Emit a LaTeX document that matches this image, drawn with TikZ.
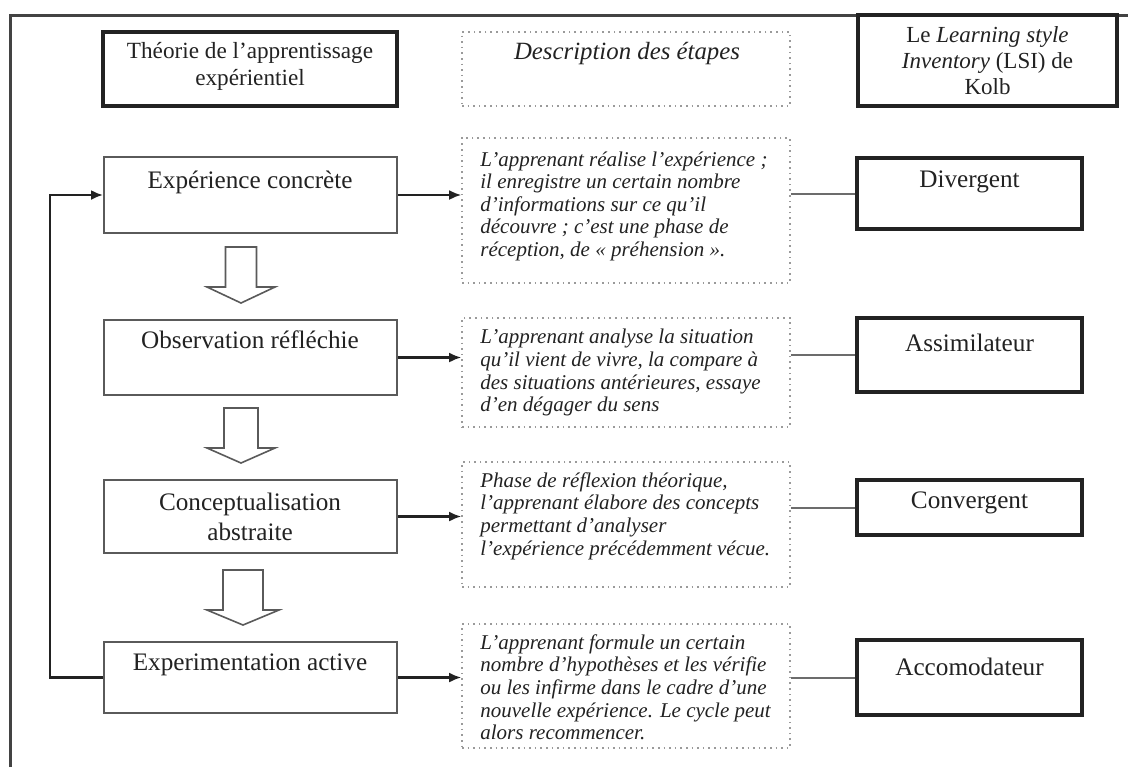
\documentclass[tikz,border=0pt]{standalone}
\usepackage{fontspec}
\setmainfont{Liberation Serif}
\usetikzlibrary{arrows.meta}
\definecolor{ink}{HTML}{222222}
\definecolor{lgray}{HTML}{5A5A5A}
\definecolor{dgray}{HTML}{9A9A9A}
\newcommand\blockarr[6]{\draw[barrow] (#1-#2,#4) -- (#1+#2,#4) -- (#1+#2,#5) -- (#1+#3,#5) -- (#1,#6) -- (#1-#3,#5) -- (#1-#2,#5) -- cycle;}
\begin{document}
\begin{tikzpicture}[x=0.5pt,y=-0.5pt,
  lbox/.style={draw=lgray, line width=1pt, inner sep=0},
  rbox/.style={draw=ink, line width=1.6pt, inner sep=0},
  dbox/.style={draw=dgray, line width=0.8pt, dotted, inner sep=0},
  btxt/.style={font=\fontsize{12.6}{15}\selectfont, text=ink, inner sep=0, align=center},
  dtxt/.style={font=\fontsize{10.5}{11.3}\selectfont\itshape, text=ink, inner sep=0, align=left, anchor=north west},
  link/.style={draw=ink, line width=1.1pt, -{Latex[length=6pt,width=5pt]}},
  plain/.style={draw=dgray!70!black, line width=1pt},
  barrow/.style={draw=lgray, line width=0.8pt, fill=white, line join=miter},
  frame/.style={draw=ink!85, line width=1.5pt}
]
\useasboundingbox (0,0) rectangle (1128,767);
\fill[white] (0,0) rectangle (1128,767);
% open frame
\coordinate (fbl) at (10,767);
\coordinate (ftl) at (10,15);
\coordinate (ftr) at (1128,15);
\draw[frame] (fbl) -- (ftl) -- (ftr);

% headers
\node[rbox, minimum width=147pt, minimum height=37pt] (h1) at (250,69) {};
\node[btxt, font=\fontsize{11.6}{13.5}\selectfont] (h1t) at (250,66.5) {Théorie de l'apprentissage\\expérientiel};
\node[dbox, minimum width=164pt, minimum height=37pt] (h2) at (626,69) {};
\node[btxt, font=\fontsize{12.4}{15}\selectfont\itshape] (h2t) at (627,54) {Description des étapes};
\node[rbox, minimum width=129.5pt, minimum height=45.5pt] (h3) at (987.5,60.5) {};
\node[btxt, font=\fontsize{11.5}{13}\selectfont] (h3t) at (987.5,61) {Le \textit{Learning style}\\\textit{Inventory} (LSI) de\\Kolb};

% left column
\node[lbox, minimum width=146.5pt, minimum height=38pt] (e1) at (250.5,195) {};
\node[btxt] (e1t) at (250,182) {Expérience concrète};
\node[lbox, minimum width=146.5pt, minimum height=37.5pt] (e2) at (250.5,357.5) {};
\node[btxt] (e2t) at (250,340) {Observation réfléchie};
\node[lbox, minimum width=146.5pt, minimum height=36.5pt] (e3) at (250.5,516.5) {};
\node[btxt] (e3t) at (250,517) {Conceptualisation\\abstraite};
\node[lbox, minimum width=146.5pt, minimum height=35.5pt] (e4) at (250.5,677.5) {};
\node[btxt] (e4t) at (250,665) {Experimentation active};

% block arrows
\blockarr{241}{15.5}{34}{247}{287}{303}
\blockarr{241}{17}{34}{408}{448}{463}
\blockarr{243}{20}{36}{570}{610}{625}

% description boxes
\node[dbox, minimum width=164pt, minimum height=72.5pt] (d1) at (626,210.5) {};
\node[dtxt] (d1t) at (480,151) {L'apprenant réalise l'expérience ;\\il enregistre un certain nombre\\d'informations sur ce qu'il\\découvre ; c'est une phase de\\réception, de « préhension ».};
\node[dbox, minimum width=164pt, minimum height=54.5pt] (d2) at (626,372.5) {};
\node[dtxt] (d2t) at (480,329) {L'apprenant analyse la situation\\qu'il vient de vivre, la compare à\\des situations antérieures, essaye\\d'en dégager du sens};
\node[dbox, minimum width=164pt, minimum height=62.5pt] (d3) at (626,524.5) {};
\node[dtxt] (d3t) at (480,472) {Phase de réflexion théorique,\\l'apprenant élabore des concepts\\permettant d'analyser\\l'expérience précédemment vécue.};
\node[dbox, minimum width=164pt, minimum height=62pt] (d4) at (626,686) {};
\node[dtxt] (d4t) at (480,634) {L'apprenant formule un certain\\nombre d'hypothèses et les vérifie\\ou les infirme dans le cadre d'une\\nouvelle expérience. Le cycle peut\\alors recommencer.};

% right column
\node[rbox, minimum width=112.5pt, minimum height=35.5pt] (r1) at (969.5,193.5) {};
\node[btxt] (r1t) at (969.5,182) {Divergent};
\node[rbox, minimum width=112.5pt, minimum height=37pt] (r2) at (969.5,355) {};
\node[btxt] (r2t) at (969.5,343) {Assimilateur};
\node[rbox, minimum width=112.5pt, minimum height=27.5pt] (r3) at (969.5,507.5) {};
\node[btxt] (r3t) at (969.5,503) {Convergent};
\node[rbox, minimum width=112.5pt, minimum height=37.5pt] (r4) at (969.5,677.5) {};
\node[btxt] (r4t) at (969.5,667) {Accomodateur};

% arrows left -> descriptions
\draw[link] (e1.east) -- (e1.east -| d1.west);
\draw[link] (e2.east) -- (e2.east -| d2.west);
\draw[link] (e3.east) -- (e3.east -| d3.west);
\draw[link] (e4.east) -- (e4.east -| d4.west);

% lines descriptions -> styles
\draw[plain] (d1.east |- r1.west) -- (r1.west);
\draw[plain] (d2.east |- r2.west) -- (r2.west);
\draw[plain] (d3.east |- r3.west) -- (r3.west);
\draw[plain] (d4.east |- r4.west) -- (r4.west);

% feedback loop
\coordinate (lp) at (50,400);
\draw[link] (e4.west) -- (e4.west -| lp) |- (e1.west);
\end{tikzpicture}
\end{document}
